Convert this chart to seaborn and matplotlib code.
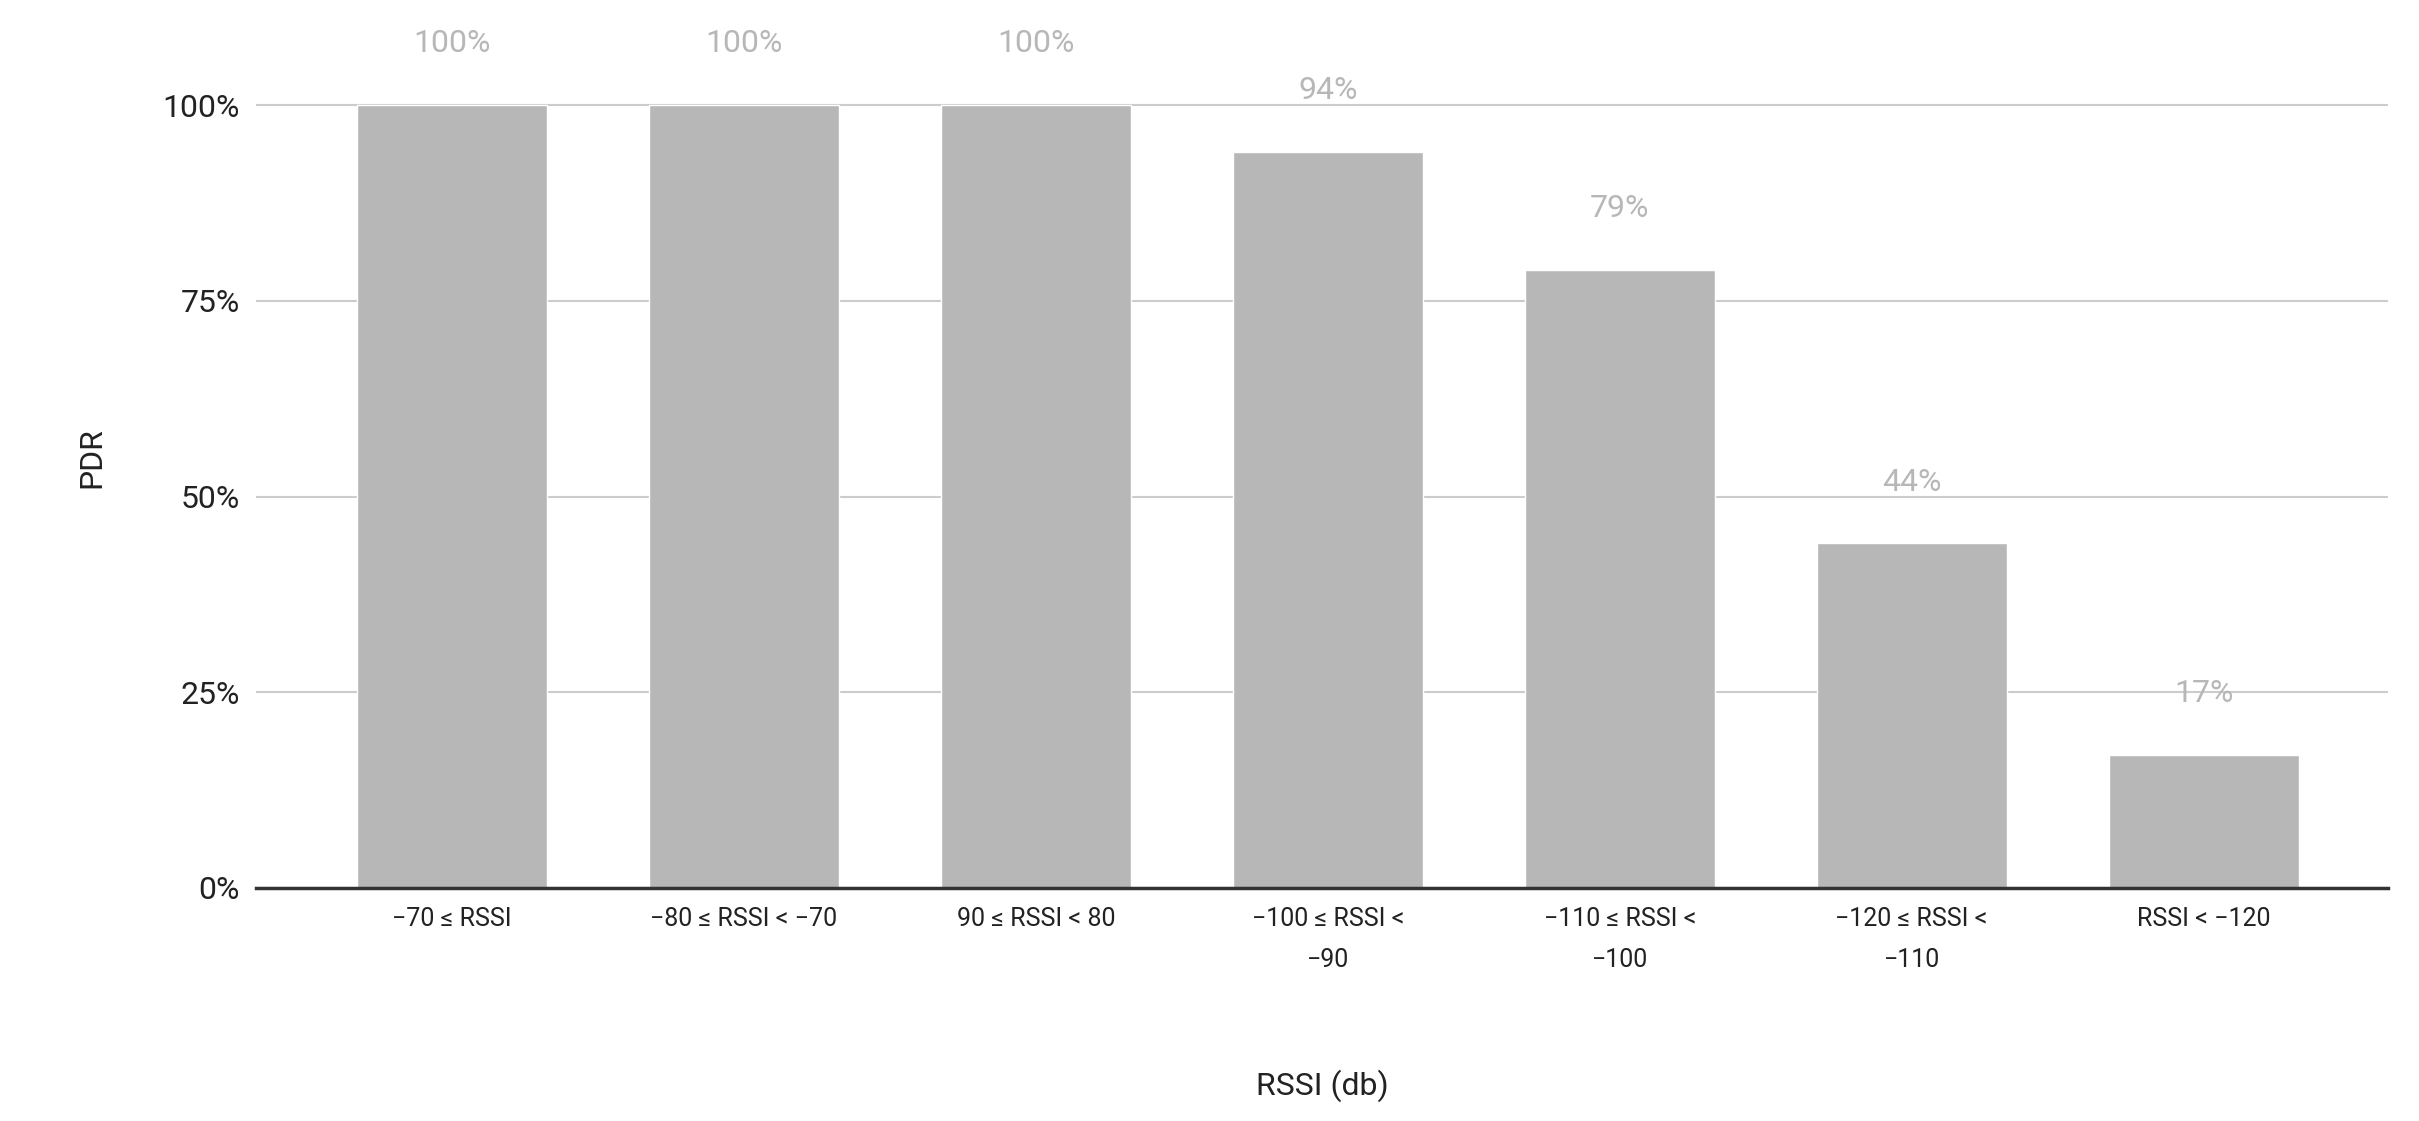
import matplotlib
matplotlib.use("Agg")
import matplotlib.pyplot as plt
import seaborn as sns
import pandas as pd
from matplotlib.ticker import PercentFormatter

categories = ["−70 ≤ RSSI", "−80 ≤ RSSI < −70", "90 ≤ RSSI < 80", "−100 ≤ RSSI <\n−90",
              "−110 ≤ RSSI <\n−100", "−120 ≤ RSSI <\n−110", "RSSI < −120"]
pdr = [1.00, 1.00, 1.00, 0.94, 0.79, 0.44, 0.17]
labels = ["100%", "100%", "100%", "94%", "79%", "44%", "17%"]

sns.set_style("white")
plt.rcParams['font.family'] = ['Roboto', 'DejaVu Sans']
df = pd.DataFrame({"cat": categories, "pdr": pdr})
fig = plt.figure(figsize=(24.19, 11.21), dpi=100)
ax = fig.add_axes([0.106, 0.208, 0.881, 0.768])
sns.barplot(data=df, x="cat", y="pdr", color="#b7b7b7", saturation=1, width=0.65, ax=ax)
ax.set_xlim(-0.67, 6.63)
ax.set_ylim(0, 1.1)
ax.set_yticks([0, 0.25, 0.5, 0.75, 1.0])
ax.yaxis.set_major_formatter(PercentFormatter(1.0, decimals=0))
ax.grid(axis="y", color="#cccccc", linewidth=1.5)
ax.set_axisbelow(True)
for s in ["top", "right", "left"]:
    ax.spines[s].set_visible(False)
ax.spines["bottom"].set_color("#333333")
ax.spines["bottom"].set_linewidth(2.5)
ax.tick_params(axis="y", labelsize=23, length=0, colors="#222222", pad=12)
ax.tick_params(axis="x", labelsize=18, length=0, colors="#222222", pad=14)
for lab in ax.get_xticklabels():
    lab.set_linespacing(1.9)
for i, (v, t) in enumerate(zip(pdr, labels)):
    ax.text(i, v + 0.06, t, ha="center", va="bottom", fontsize=23, color="#b7b7b7")
ax.set_xlabel("RSSI (db)", fontsize=23, labelpad=70, color="#222222")
ax.set_ylabel("PDR", fontsize=23, labelpad=40, color="#222222")
fig.savefig("out.png", dpi=100)
